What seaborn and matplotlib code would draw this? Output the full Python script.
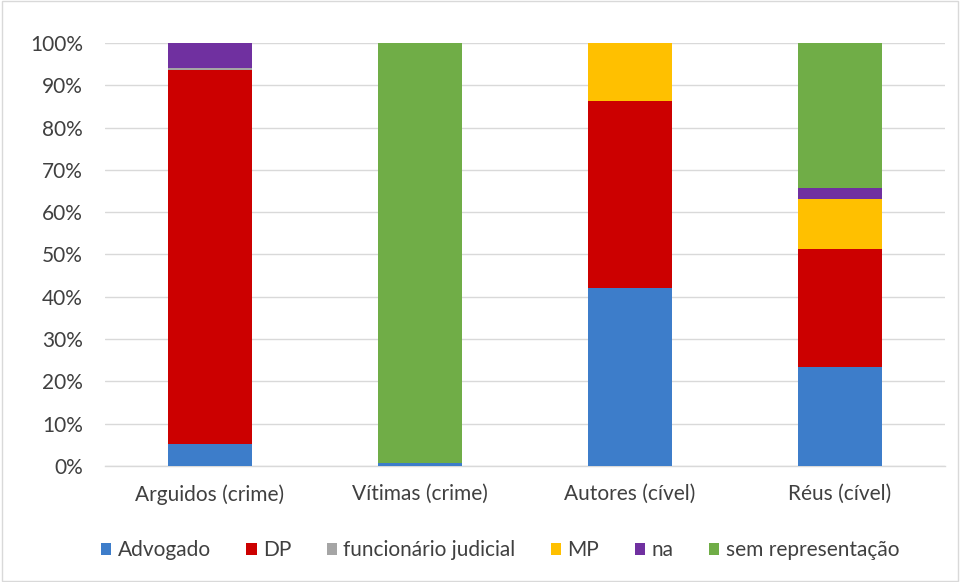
import matplotlib
matplotlib.use("Agg")
import matplotlib.pyplot as plt
from matplotlib.patches import Patch
import numpy as np
import seaborn as sns

categories = ["Arguidos (crime)", "Vítimas (crime)", "Autores (cível)", "Réus (cível)"]
series_names = ["Advogado", "DP", "funcionário judicial", "MP", "na", "sem representação"]
advogado = [5.2, 0.7, 42.0, 23.4]
dp = [88.3, 0.0, 44.3, 27.9]
funcionario = [0.5, 0.0, 0.0, 0.0]
mp = [0.0, 0.0, 13.7, 11.8]
na = [6.0, 0.0, 0.0, 2.6]
sem_repr = [0.0, 99.3, 0.0, 34.3]
y_ticks = [0, 10, 20, 30, 40, 50, 60, 70, 80, 90, 100]

series_values = [advogado, dp, funcionario, mp, na, sem_repr]
colors = ["#3D7DCA", "#CC0000", "#A5A5A5", "#FFC000", "#7030A0", "#70AD47"]

sns.set_theme(style="white")
plt.rcParams["font.family"] = ["Lato", "DejaVu Sans"]

fig = plt.figure(figsize=(9.6, 5.82), dpi=100)
ax = fig.add_axes([105 / 960, 1 - 466 / 582, 840 / 960, 423 / 582])

bottom = np.zeros(len(categories))
for name, vals, col in zip(series_names, series_values, colors):
    vals = np.array(vals, dtype=float)
    sns.barplot(x=categories, y=vals, bottom=bottom, color=col, width=0.4,
                ax=ax, linewidth=0, saturation=1, zorder=3)
    bottom += vals

ax.set_xlim(-0.5, 3.5)
ax.set_ylim(0, 100)
ax.set_yticks(y_ticks)
ax.set_yticklabels([f"{t}%" for t in y_ticks])
ax.yaxis.grid(True, color="#D9D9D9", linewidth=1, zorder=0)
ax.set_axisbelow(True)
for s in ["top", "right", "left"]:
    ax.spines[s].set_visible(False)
ax.spines["bottom"].set_color("#D9D9D9")
ax.spines["bottom"].set_linewidth(1)
ax.tick_params(axis="both", labelsize=15, colors="#404040", length=0)
ax.tick_params(axis="y", pad=16)
ax.tick_params(axis="x", pad=13)
ax.set_xlabel("")
ax.set_ylabel("")

handles = [Patch(facecolor=c, edgecolor="none", label=n) for n, c in zip(series_names, colors)]
fig.legend(handles=handles, loc="center", bbox_to_anchor=(500 / 960, 1 - 550 / 582),
           ncol=6, frameon=False, fontsize=15, handlelength=0.5, handleheight=0.5,
           handletextpad=0.3, columnspacing=1.7, labelcolor="#404040")

fig.patches.append(plt.Rectangle((0.002, 0.002), 0.996, 0.996, transform=fig.transFigure,
                                 fill=False, edgecolor="#D9D9D9", linewidth=1))

fig.savefig("out.png", dpi=100)
